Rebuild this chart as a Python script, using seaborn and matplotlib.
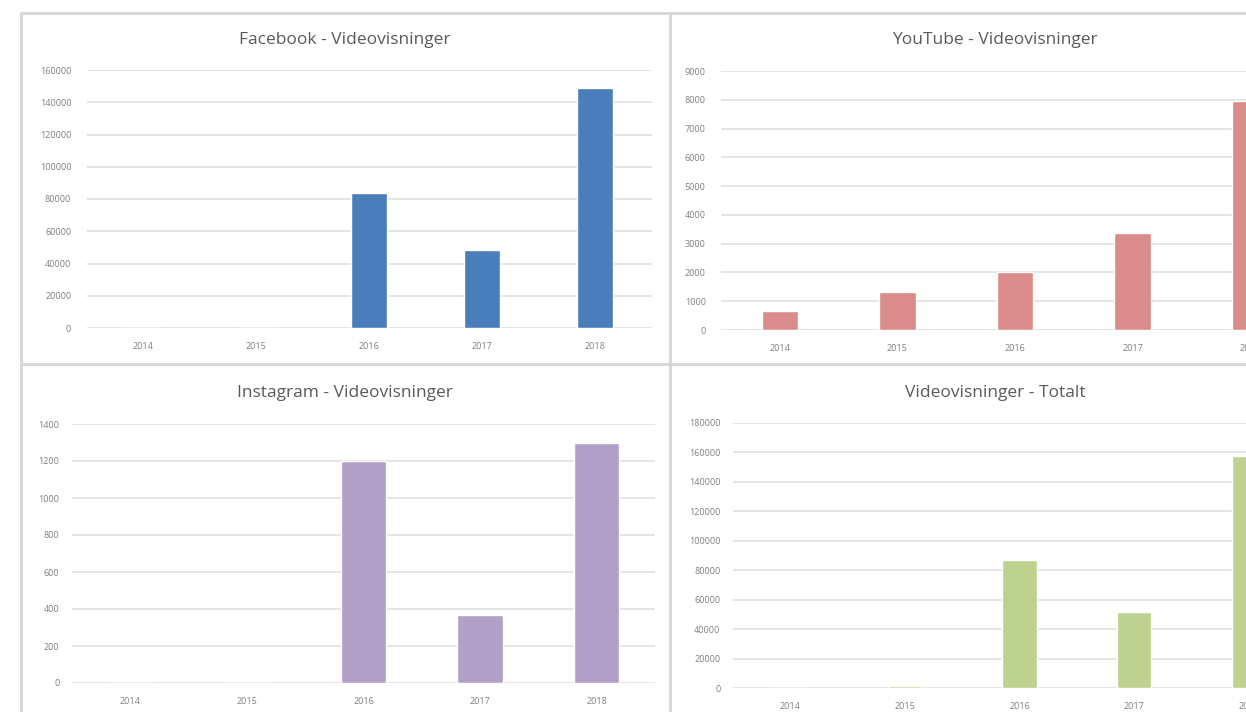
import numpy as np
import pandas as pd
import seaborn as sns
import matplotlib.pyplot as plt
from matplotlib.lines import Line2D

# Values
years = ["2014", "2015", "2016", "2017", "2018"]
facebook = [0, 0, 84000, 48100, 148600]
youtube = [660, 1320, 2000, 3360, 7970]
instagram = [0, 0, 1200, 370, 1300]
totalt = [0, 1320, 87200, 51800, 157900]

titles = ["Facebook - Videovisninger", "YouTube - Videovisninger",
          "Instagram - Videovisninger", "Videovisninger - Totalt"]
colors = ["#4a7ebb", "#d98c8a", "#b3a0c8", "#bdd28e"]
y_max = [160000, 9000, 1400, 180000]
y_step = [20000, 1000, 200, 20000]

sns.set_theme(style="white")
plt.rcParams['font.family'] = ['Open Sans', 'DejaVu Sans']

W, H = 1246, 712
fig = plt.figure(figsize=(W / 100, H / 100), dpi=100)
fig.patch.set_facecolor("white")


def px_axes(left, top, right, bottom):
    # pixel box -> figure fraction
    return fig.add_axes([left / W, 1 - bottom / H, (right - left) / W, (bottom - top) / H])


# plot areas in pixels (left, top, right, bottom), title centre, bar width, label pad
layout = [
    ((86.5, 70, 651.5, 328), (345, 40), 0.31, 11),
    ((721, 71, 1309, 330), (995, 40), 0.31, 11),
    ((72, 424, 655, 683), (345, 393), 0.39, 9),
    ((733, 423, 1306, 688), (995, 393), 0.30, 9),
]
series = [facebook, youtube, instagram, totalt]

for i, (box, tpos, bw, pad) in enumerate(layout):
    ax = px_axes(*box)
    df = pd.DataFrame({"year": years, "views": series[i]})
    sns.barplot(data=df, x="year", y="views", color=colors[i], width=bw,
                saturation=1, ax=ax)
    ax.set_xlim(-0.5, 4.5)
    ax.set_ylim(0, y_max[i])
    ax.set_yticks(np.arange(0, y_max[i] + 1, y_step[i]))
    ax.set_xlabel("")
    ax.set_ylabel("")
    for s in ax.spines.values():
        s.set_visible(False)
    ax.set_facecolor("none")
    ax.yaxis.grid(True, color="#e0e0e0", linewidth=1.2)
    ax.set_axisbelow(True)
    ax.tick_params(axis="y", length=0, pad=pad, labelsize=6.5, labelcolor="#7f7f7f")
    ax.tick_params(axis="x", length=0, pad=10, labelsize=6.5, labelcolor="#7f7f7f")
    fig.text(tpos[0] / W, 1 - tpos[1] / H, titles[i], ha="center", va="center",
             fontsize=12.5, color="#5a5a5a")

# panel borders
border = dict(color="#d6d6d6", linewidth=2)
for (x0, y0, x1, y1) in [(21, 13, 1246, 13), (21, 13, 21, 712),
                         (670, 13, 670, 712), (21, 364, 1246, 364)]:
    fig.add_artist(Line2D([x0 / W, x1 / W], [1 - y0 / H, 1 - y1 / H],
                          transform=fig.transFigure, **border))

fig.savefig("out.png", dpi=100)
